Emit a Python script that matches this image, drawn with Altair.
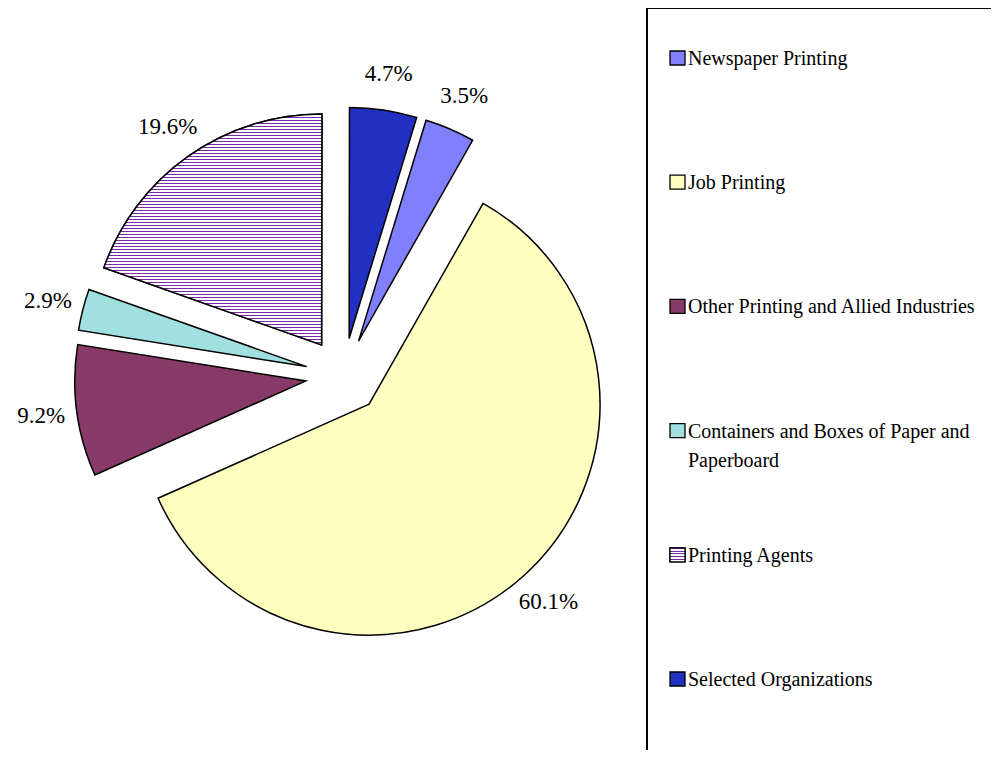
import altair as alt
import pandas as pd

# ---- data ----
categories = [
    "Newspaper Printing",
    "Job Printing",
    "Other Printing and Allied Industries",
    "Containers and Boxes of Paper and Paperboard",
    "Printing Agents",
    "Selected Organizations",
]
shares = [3.5, 60.1, 9.2, 2.9, 19.6, 4.7]
labels = ["3.5%", "60.1%", "9.2%", "2.9%", "19.6%", "4.7%"]

# ---- style ----
colors = ["#8080ff", "#ffffc0", "#873a68", "#a0e0e0", "#ffffff", "#2030c0"]
FONT = "Liberation Serif"
CX, CY = 335.5, 368.0      # pie centre (view px)
EXPLODE = 38               # explosion distance
R = 231                    # pie radius
LABEL_R = 267              # label radius from slice centre
FIRST_ANGLE_DEG = 17       # Excel "angle of first slice"
LEG_X0, LEG_X1 = 662, 677  # legend swatch
LEG_TX = 680
LEG_Y0, LEG_STEP = 50, 124.2


def stripes(n, color, frac):
    stops = []
    for i in range(n):
        a = round(i / n, 6)
        b = round((i + frac) / n, 6)
        c = round((i + 1) / n, 6)
        stops += [
            {"offset": a, "color": color},
            {"offset": b, "color": color},
            {"offset": b, "color": "#ffffff"},
            {"offset": c, "color": "#ffffff"},
        ]
    return {"gradient": "linear", "stops": stops, "x1": 0, "y1": 0, "x2": 0, "y2": 1}


hatch_big = stripes(77, "#7a2aa8", 0.34)   # 3px period over the slice's bounding box
hatch_small = stripes(5, "#7a2aa8", 0.34)

df = pd.DataFrame({"category": categories, "share": shares, "label": labels,
                   "idx": list(range(len(categories)))})

a0 = f"({FIRST_ANGLE_DEG}*PI/180)"
base = (
    alt.Chart(df)
    .transform_joinaggregate(total="sum(share)")
    .transform_window(cum="sum(share)", sort=[alt.SortField("idx", order="ascending")], frame=[None, 0])
    .transform_calculate(t1=f"{a0} + 2*PI*datum.cum/datum.total")
    .transform_calculate(t0=f"{a0} + 2*PI*(datum.cum-datum.share)/datum.total")
    .transform_calculate(mid="(datum.t0 + datum.t1)/2")
    .transform_calculate(px=f"{CX} + {EXPLODE}*sin(datum.mid)")
    .transform_calculate(py=f"{CY} - {EXPLODE}*cos(datum.mid)")
    .transform_calculate(ly0=f"{LEG_Y0} - 7 + datum.idx*{LEG_STEP}")
    .transform_calculate(ly1=f"{LEG_Y0} + 7 + datum.idx*{LEG_STEP}")
    .transform_calculate(lty=f"{LEG_Y0} + 7 + datum.idx*{LEG_STEP}")
    .transform_calculate(
        leg="length(datum.category) > 40 ? "
            "[substring(datum.category, 0, lastindexof(substring(datum.category, 0, 34), ' ')), "
            "substring(datum.category, lastindexof(substring(datum.category, 0, 34), ' ') + 1)] "
            ": datum.category"
    )
)

X = alt.X("px:Q", scale=None, axis=None)
Y = alt.Y("py:Q", scale=None, axis=None)

arcs = base.mark_arc(radius=R, stroke="black", strokeWidth=1.5).encode(
    x=X, y=Y,
    theta=alt.Theta("t0:Q", scale=None),
    theta2="t1:Q",
    fill=alt.Fill("category:N", scale=alt.Scale(domain=categories, range=colors), legend=None),
)

hatch = base.transform_filter(alt.datum.category == "Printing Agents").mark_arc(
    radius=R, stroke="black", strokeWidth=1.5, fill=hatch_big
).encode(
    x=X, y=Y,
    theta=alt.Theta("t0:Q", scale=None),
    theta2="t1:Q",
)

pct = base.mark_text(font=FONT, fontSize=23, align="center", baseline="middle", color="black").encode(
    x=X, y=Y,
    theta=alt.Theta("mid:Q", scale=None, stack=False),
    radius=alt.value(LABEL_R),
    text="label:N",
)

box = alt.Chart(pd.DataFrame({"b": [1]})).mark_rect(
    fill="transparent", stroke="black", strokeWidth=2
).encode(x=alt.value(639), x2=alt.value(1200), y=alt.value(0), y2=alt.value(1000))

swatch = base.mark_rect(stroke="black", strokeWidth=1.3).encode(
    x=alt.value(LEG_X0), x2=alt.value(LEG_X1),
    y=alt.Y("ly0:Q", scale=None, axis=None), y2="ly1:Q",
    fill=alt.Fill("category:N", scale=alt.Scale(domain=categories, range=colors), legend=None),
)
swatch_hatch = base.transform_filter(alt.datum.category == "Printing Agents").mark_rect(
    stroke="black", strokeWidth=1.3, fill=hatch_small
).encode(
    x=alt.value(LEG_X0), x2=alt.value(LEG_X1),
    y=alt.Y("ly0:Q", scale=None, axis=None), y2="ly1:Q",
)

leg_text = base.mark_text(font=FONT, fontSize=20, align="left", baseline="alphabetic",
                          lineHeight=29, color="black").encode(
    x=alt.value(LEG_TX),
    y=alt.Y("lty:Q", scale=None, axis=None),
    text="leg:N",
)

chart = (
    alt.layer(arcs, hatch, pct, box, swatch, swatch_hatch, leg_text)
    .properties(width=983, height=742, padding=0, autosize="none", background="white")
    .configure_view(stroke=None)
)

chart.save("out.html", embed_options={"renderer": "svg", "actions": False})
